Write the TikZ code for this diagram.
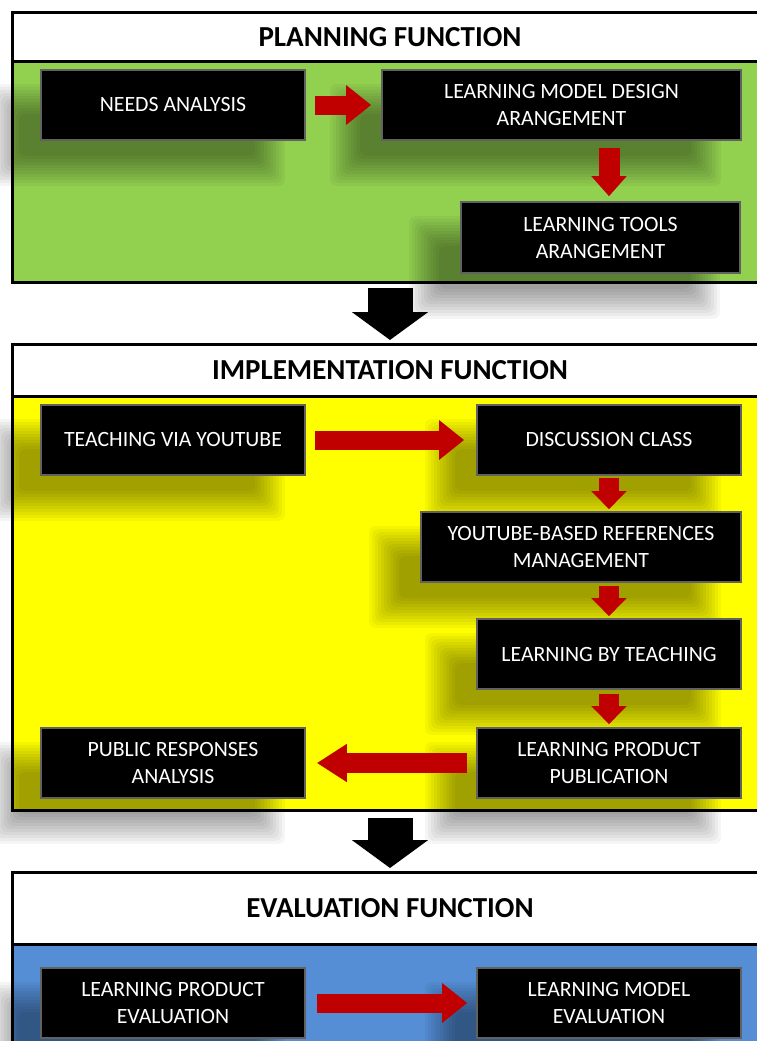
\documentclass[tikz,border=0pt]{standalone}
\usepackage{fontspec}
\setmainfont{Carlito}
\usetikzlibrary{arrows.meta}
\definecolor{pgreen}{HTML}{92D050}
\definecolor{pyellow}{HTML}{FFFF00}
\definecolor{pblue}{HTML}{558ED5}
\definecolor{ared}{HTML}{C00000}
\pgfdeclarelayer{panellayer}
\pgfdeclarelayer{shadowlayer}
\pgfsetlayers{panellayer,shadowlayer,main}
\begin{document}
\begin{tikzpicture}[x=1pt,y=-1pt,
  panel/.style={draw=black,line width=3pt,minimum width=756pt,inner sep=0pt,anchor=north},
  hdr/.style={panel,fill=white,font=\bfseries\fontsize{29}{32}\selectfont},
  box/.style={fill=black,draw=black!62,line width=1.6pt,text=white,align=center,inner sep=0pt,
    font=\fontsize{21.8}{27}\selectfont,minimum height=70pt},
  softshade/.style={fill=black,opacity=0.04,rounded corners=6pt},
  redh/.style={draw=ared,line width=19pt,-{Triangle[length=25pt,width=38pt]}},
  redv/.style={draw=ared,line width=21pt,-{Triangle[length=20pt,width=34pt]}},
  bigarrow/.style={draw=black,line width=45pt,-{Triangle[length=28pt,width=75pt]}}
]
\clip (0,0) rectangle (756,1041);
\begin{pgfonlayer}{panellayer}
\fill[white] (0,0) rectangle (756,1041);
\node[panel,fill=pgreen,minimum height=270pt] (p1) at (390,11) {};
\node[hdr,minimum height=49pt] (h1) at (390,11) {PLANNING FUNCTION};
\node[panel,fill=pyellow,minimum height=466pt] (p2) at (390,343) {};
\node[hdr,minimum height=52pt] (h2) at (390,343) {IMPLEMENTATION FUNCTION};
\node[panel,fill=pblue,minimum height=260pt] (p3) at (390,871) {};
\node[hdr,minimum height=72pt] (h3) at (390,871) {EVALUATION FUNCTION};
\end{pgfonlayer}
% planning boxes
\node[box,minimum width=264pt] (needs) at (173,105) {NEEDS ANALYSIS};
\node[box,minimum width=359pt] (lmd) at (561.5,105) {LEARNING MODEL DESIGN\\ARANGEMENT};
\node[box,minimum width=279pt,minimum height=71pt] (lta) at (600.5,237.5) {LEARNING TOOLS\\ARANGEMENT};
% implementation boxes
\node[box,minimum width=264pt] (teach) at (173,440) {TEACHING VIA YOUTUBE};
\node[box,minimum width=264pt] (disc) at (609,440) {DISCUSSION CLASS};
\node[box,minimum width=320pt] (ytref) at (581,547) {YOUTUBE-BASED REFERENCES\\MANAGEMENT};
\node[box,minimum width=264pt] (lbt) at (609,654) {LEARNING BY TEACHING};
\node[box,minimum width=264pt] (lpp) at (609,763) {LEARNING PRODUCT\\PUBLICATION};
\node[box,minimum width=264pt] (pub) at (173,763) {PUBLIC RESPONSES\\ANALYSIS};
% evaluation boxes
\node[box,minimum width=264pt] (lpe) at (173,1003) {LEARNING PRODUCT\\EVALUATION};
\node[box,minimum width=264pt] (lme) at (609,1003) {LEARNING MODEL\\EVALUATION};
% soft shadows
\begin{pgfonlayer}{shadowlayer}
\foreach \n in {needs,lmd,lta,teach,disc,ytref,lbt,lpp,pub,lpe,lme}{
  \foreach \e in {-15,-12,...,15}{
    \fill[softshade] ([shift={(-36-\e,30+\e)}]\n.south west) rectangle ([shift={(-36+\e,30-\e)}]\n.north east);
  }
}
\end{pgfonlayer}
% red connectors
\draw[redh,shorten <=9pt,shorten >=10pt] (needs.east) -- (lmd.west);
\draw[redv,shorten <=7pt,shorten >=5pt] ([xshift=47.5pt]lmd.south) -- ([xshift=8.5pt]lta.north);
\draw[redh,shorten <=9pt,shorten >=12pt] (teach.east) -- (disc.west);
\draw[redv,line width=20pt,-{Triangle[length=18pt,width=34pt]},shorten <=2pt,shorten >=2pt] (disc.south) -- ([xshift=28pt]ytref.north);
\draw[redv,line width=20pt,-{Triangle[length=18pt,width=34pt]},shorten <=3pt,shorten >=2pt] ([xshift=28pt]ytref.south) -- (lbt.north);
\draw[redv,line width=20pt,-{Triangle[length=18pt,width=34pt]},shorten <=4pt,shorten >=3pt] (lbt.south) -- (lpp.north);
\draw[redh,line width=20pt,-{Triangle[length=30pt,width=36pt]},shorten <=9pt,shorten >=11pt] (lpp.west) -- (pub.east);
\draw[redh,shorten <=11pt,shorten >=9pt] (lpe.east) -- (lme.west);
% big black connectors
\draw[bigarrow,shorten <=4pt,shorten >=3pt] (p1.south) -- (p2.north);
\draw[bigarrow,shorten <=6pt,shorten >=3pt] (p2.south) -- (p3.north);
\end{tikzpicture}
\end{document}
